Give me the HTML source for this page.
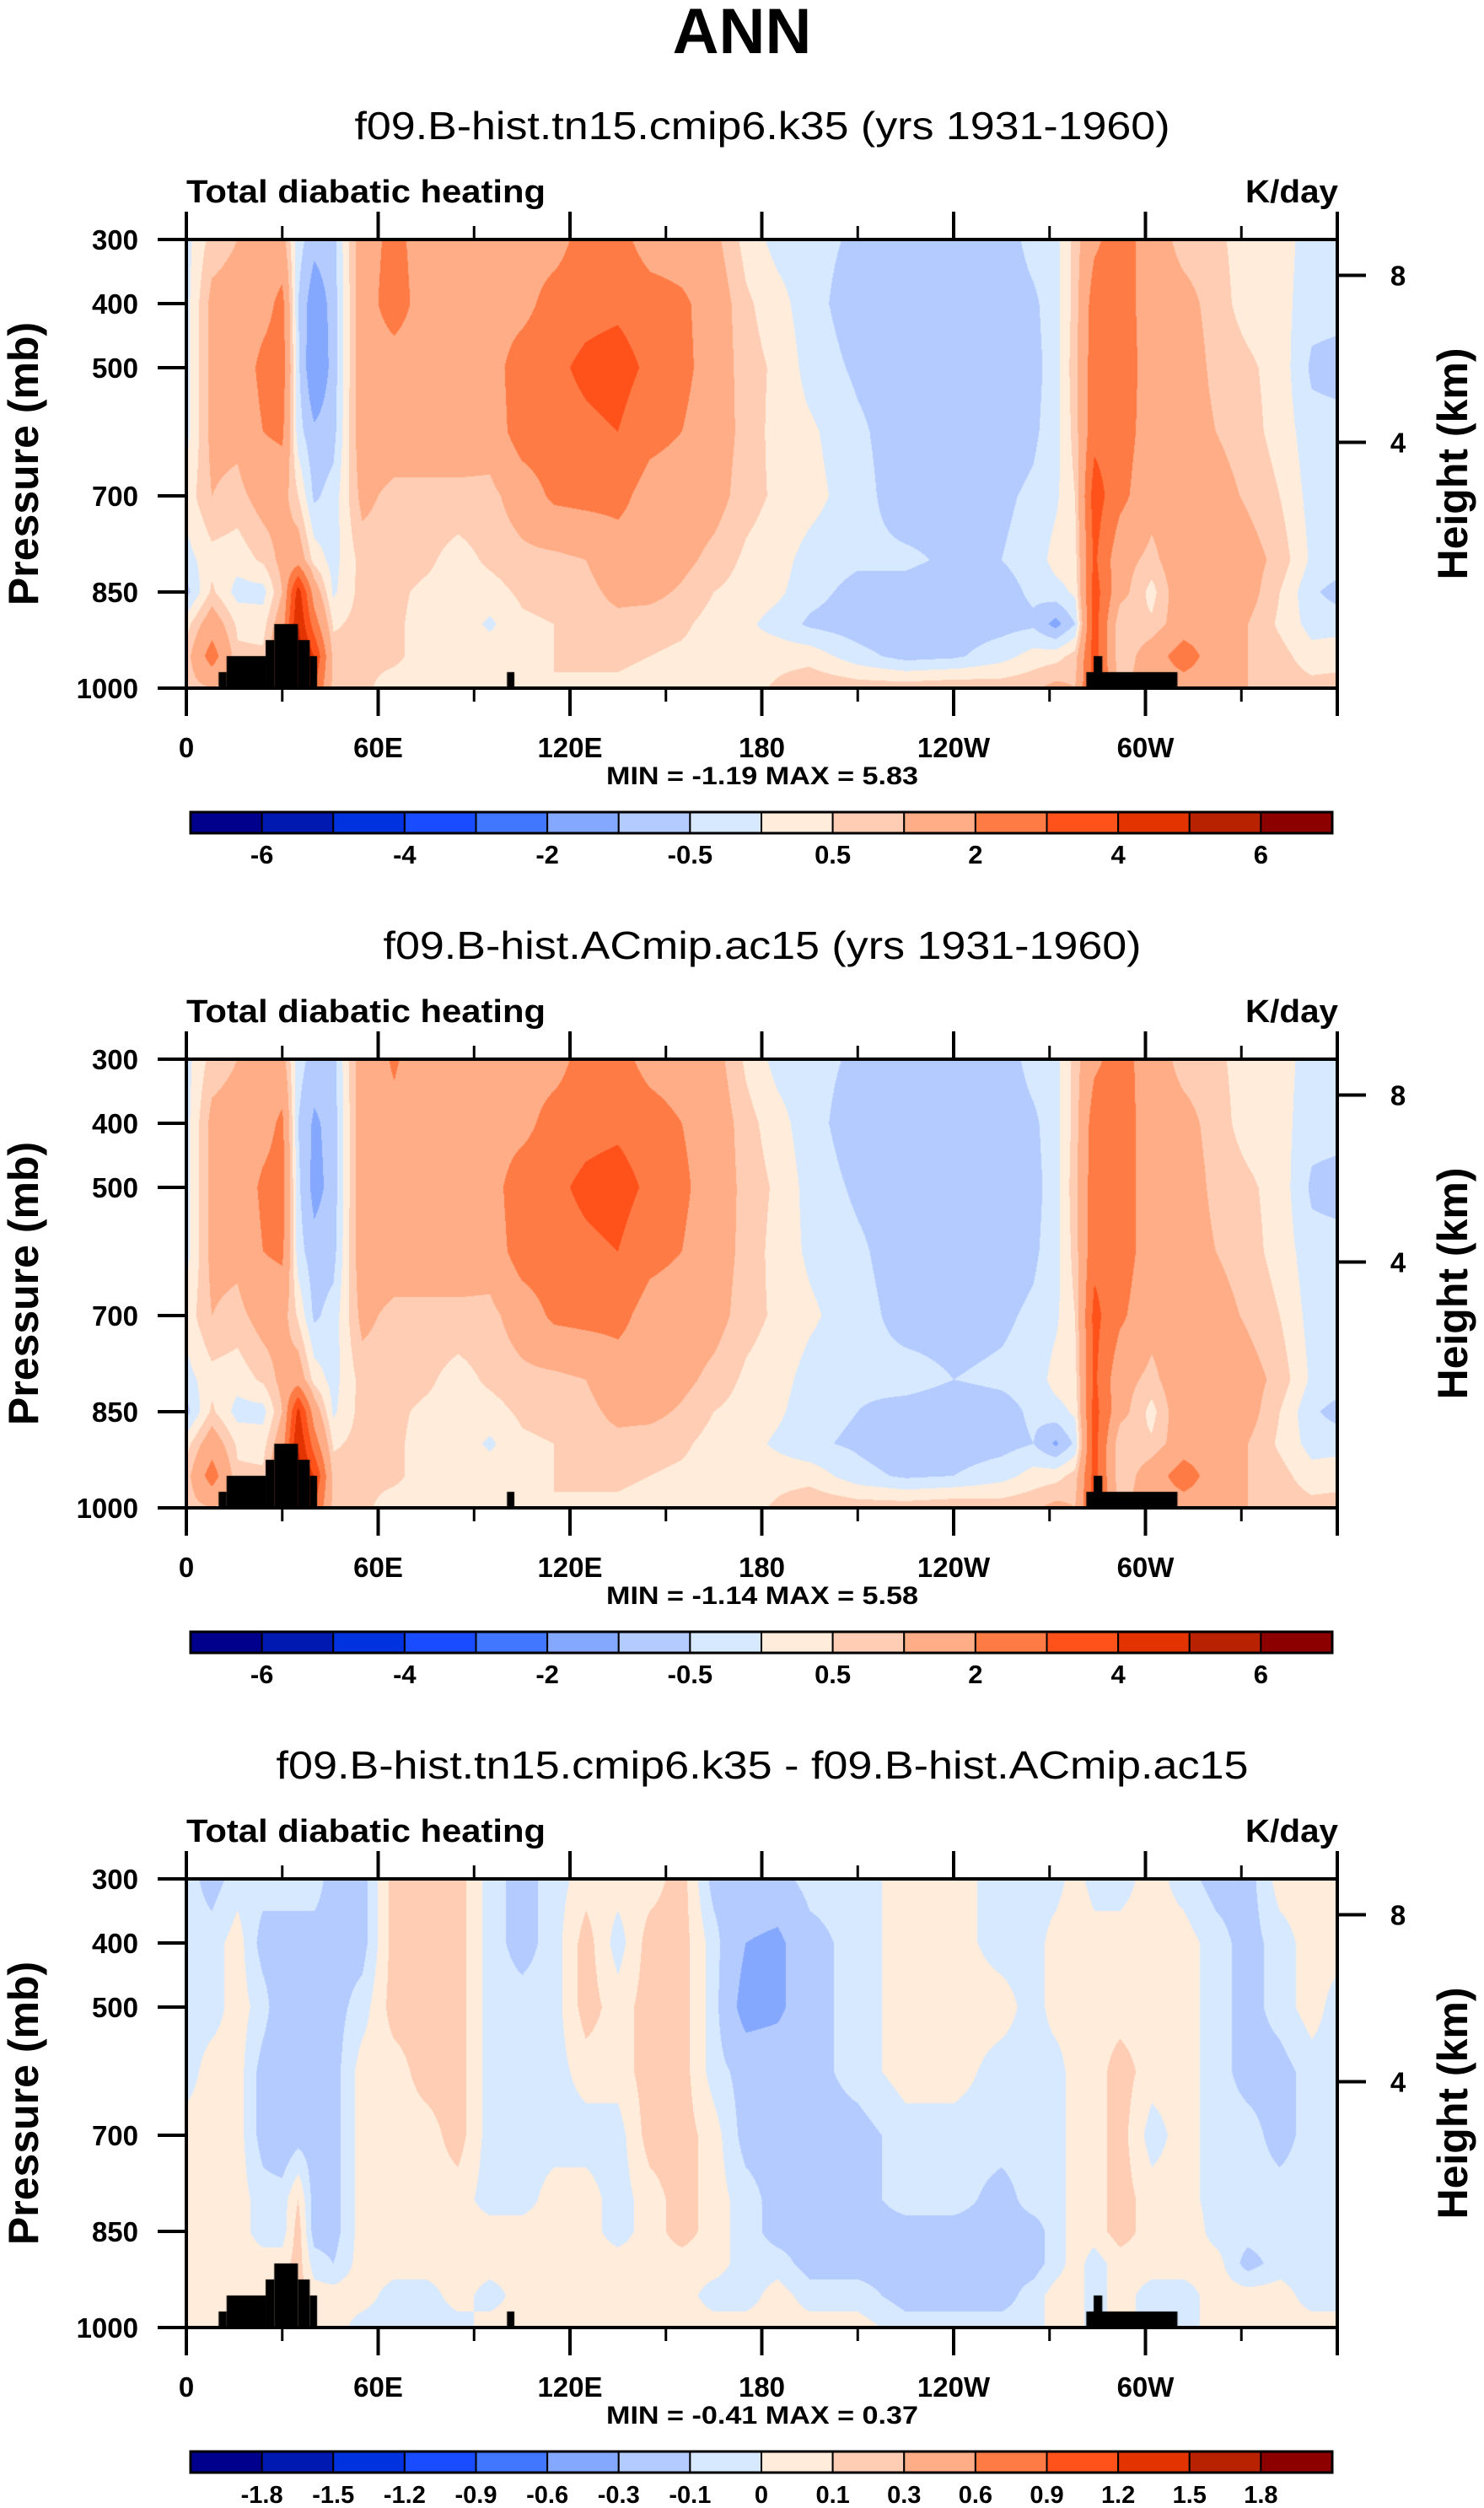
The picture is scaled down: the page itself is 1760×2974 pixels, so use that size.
<!DOCTYPE html>
<html><head><meta charset="utf-8">
<style>
html,body{margin:0;padding:0;background:#fff;}
#wrap{position:relative;width:1760px;height:2974px;overflow:hidden;}
canvas{position:absolute;}
svg{position:absolute;left:0;top:0;}
text{font-family:"Liberation Sans",sans-serif;}
</style></head>
<body>
<div id="wrap">
<canvas id="c1" width="1365" height="532" style="left:221px;top:284px"></canvas>
<canvas id="c2" width="1365" height="532" style="left:221px;top:1256px"></canvas>
<canvas id="c3" width="1365" height="532" style="left:221px;top:2228px"></canvas>
<svg id="ov" width="1760" height="2974">
<text x="880" y="63" text-anchor="middle" font-size="76" font-weight="bold">ANN</text>
</svg>
</div>
<script>
// ---- data ----
const lons = [0,8,16,24,30,35,40,46,55,65,75,85,95,105,115,125,135,145,155,165,175,185,195,210,225,240,255,265,272,278,284,292,302,312,322,332,342,352,360];
const levels = [300,400,500,600,700,800,850,900,950,1000];
const levels1 = [-6,-5,-4,-3,-2,-1,-0.5,0,0.5,1,2,3,4,5,6];
const levelLabels1 = ['-6','-4','-2','-0.5','0.5','2','4','6'];
const levels3 = [-1.8,-1.5,-1.2,-0.9,-0.6,-0.3,-0.1,0,0.1,0.3,0.6,0.9,1.2,1.5,1.8];
const levelLabels3 = ['-1.8','-1.5','-1.2','-0.9','-0.6','-0.3','-0.1','0','0.1','0.3','0.6','0.9','1.2','1.5','1.8'];
const palette = ['#00008c','#0019b0','#0032e0','#1a4cff','#4176ff','#85a8ff','#b4cbff','#d7e9ff','#ffecda','#ffcdb4','#ffad86','#ff7b45','#ff521b','#e23300','#b82200','#8c0000'];
// each inner array: values at `levels` for one longitude in `lons`
const field1 = [
[-0.2,-0.2,-0.2,-0.2,0.2,-0.2,-0.7,0.3,0.7,0.7],
[0.7,1.2,1.2,1.2,1.0,0.3,0.6,1.5,2.5,1.0],
[1.0,1.3,1.3,1.2,0.8,0.2,-0.2,0.4,0.6,0.6],
[1.4,1.6,2.3,2.0,1.3,0.6,-0.2,0.3,0.6,0.6],
[1.3,2.3,2.5,2.2,1.3,1.2,1.0,1.5,2,2],
[-0.3,-0.5,-0.4,-0.3,0.5,1.5,4.5,5.0,5.5,5.0],
[-0.8,-1.4,-1.6,-0.9,-0.6,0.3,1.5,2.5,4.0,3.0],
[-0.7,-0.8,-0.8,-0.7,-0.3,-0.2,-0.1,0.4,0.8,0.8],
[1.5,1.5,1.5,1.5,1.2,0.7,0.7,0.7,0.6,0.6],
[2.3,2.5,1.5,1.5,0.8,0.7,0.6,0.6,0.6,0.3],
[1.5,1.5,1.5,1.5,0.8,0.6,0.4,0.3,0.3,0.3],
[1.5,1.5,1.5,1.5,0.8,0.3,0.3,0.3,0.3,0.3],
[1.5,1.5,1.5,1.4,0.8,0.6,0.3,-0.1,0.3,0.3],
[1.5,1.6,2.6,2.5,1.4,0.8,0.6,0.4,0.5,0.3],
[1.5,2.5,2.8,2.6,2.2,0.8,0.7,0.5,0.5,0.5],
[2.5,2.7,3.2,2.8,2.3,1.0,0.8,0.7,0.6,0.4],
[2.4,2.8,3.4,3.0,2.3,1.5,1.2,0.8,0.6,0.4],
[1.5,2.5,2.8,2.3,1.6,1.5,1.2,0.7,0.5,0.3],
[1.4,2.2,2.3,2.0,1.5,1.2,0.9,0.6,0.4,0.2],
[1.2,1.5,1.5,1.4,1.3,0.8,0.5,0.3,0.3,0.2],
[0.3,0.6,0.7,0.8,0.7,0.4,0.3,0.1,0.2,0.3],
[-0.2,0.2,0.4,0.3,0.4,0.2,0.1,-0.2,0.3,0.6],
[-0.3,-0.3,-0.2,0.1,0.2,-0.2,-0.3,-0.6,0.3,0.9],
[-0.6,-0.8,-0.6,-0.4,-0.3,-0.4,-0.7,-0.8,-0.3,0.8],
[-0.8,-0.8,-0.8,-0.8,-0.8,-0.4,-0.7,-1.0,-0.7,0.8],
[-0.8,-0.8,-0.8,-0.8,-0.7,-0.6,-0.8,-0.8,-0.6,0.9],
[-0.8,-0.8,-0.8,-0.8,-0.6,-0.5,-0.7,-0.7,-0.2,0.8],
[-0.3,-0.6,-0.7,-0.6,-0.4,-0.3,-0.4,-0.6,0.2,0.9],
[-0.2,-0.2,-0.2,-0.2,-0.1,0.2,-0.2,-1.2,0.3,1.2],
[0.7,0.7,0.8,0.7,0.5,0.3,0.1,-0.5,0.7,1.0],
[1.8,2.5,2.6,2.7,3.5,3.2,3.5,3.5,3.5,3.5],
[2.5,2.5,2.5,2.5,2.3,1.3,1.3,0.5,0.5,0.8],
[1.5,1.5,1.6,1.5,1.3,0.8,0.3,0.6,1.5,1.5],
[0.7,1.3,1.5,1.5,1.6,1.6,1.6,1.5,2.5,1.5],
[0.6,0.7,0.8,1.0,1.3,1.7,1.6,1.5,1.5,1.5],
[0.3,0.3,0.6,0.7,0.9,1.3,1.3,1.0,1.0,1.0],
[0.2,0.2,0.3,0.3,0.5,0.8,0.5,0.4,0.7,0.8],
[-0.2,-0.3,-0.6,-0.3,-0.2,-0.1,-0.4,-0.2,0.2,0.7],
[-0.2,-0.3,-0.7,-0.3,-0.2,-0.2,-0.7,-0.2,0.3,0.7]];
const field2 = [
[-0.2,-0.2,-0.2,-0.2,0.2,-0.2,-0.7,0.3,0.7,0.7],
[0.7,1.2,1.2,1.2,1.0,0.3,0.6,1.5,2.5,1.0],
[1.0,1.3,1.3,1.2,0.8,0.2,-0.2,0.4,0.6,0.6],
[1.4,1.6,2.2,2.0,1.3,0.6,-0.2,0.3,0.6,0.6],
[1.3,2.2,2.4,2.2,1.3,1.2,1.0,1.5,2,2],
[-0.3,-0.5,-0.4,-0.3,0.4,1.5,4.3,5.0,5.3,5.0],
[-0.7,-1.1,-1.2,-0.8,-0.6,0.3,1.5,2.5,4.0,3.0],
[-0.7,-0.8,-0.8,-0.7,-0.3,-0.2,-0.1,0.4,0.8,0.8],
[1.5,1.5,1.5,1.5,1.2,0.7,0.7,0.7,0.6,0.6],
[2.1,1.8,1.5,1.5,0.8,0.7,0.6,0.6,0.6,0.3],
[1.5,1.5,1.5,1.5,0.8,0.6,0.4,0.3,0.3,0.3],
[1.5,1.5,1.5,1.5,0.8,0.3,0.3,0.3,0.3,0.3],
[1.5,1.5,1.5,1.4,0.8,0.6,0.3,-0.1,0.3,0.3],
[1.5,1.6,2.7,2.5,1.4,0.8,0.6,0.4,0.5,0.3],
[1.5,2.5,2.8,2.6,2.2,0.8,0.7,0.5,0.5,0.5],
[2.5,2.7,3.2,2.8,2.3,1.0,0.8,0.7,0.6,0.4],
[2.4,2.8,3.4,3.0,2.3,1.5,1.2,0.8,0.6,0.4],
[1.6,2.5,2.8,2.3,1.6,1.5,1.2,0.7,0.5,0.3],
[1.4,2.0,2.2,2.0,1.5,1.2,0.9,0.6,0.4,0.2],
[1.3,1.5,1.5,1.4,1.3,0.8,0.5,0.3,0.3,0.2],
[0.4,0.7,0.8,0.8,0.7,0.4,0.3,0.2,0.2,0.3],
[-0.2,0.2,0.4,0.3,0.4,0.2,0.1,-0.1,0.3,0.6],
[-0.3,-0.3,-0.2,-0.1,0.1,-0.2,-0.3,-0.4,0.3,0.9],
[-0.6,-0.8,-0.6,-0.4,-0.3,-0.4,-0.5,-0.6,-0.3,0.8],
[-0.8,-0.8,-0.8,-0.8,-0.7,-0.3,-0.7,-0.9,-0.6,0.8],
[-0.8,-0.8,-0.8,-0.8,-0.7,-0.5,-0.8,-0.8,-0.5,0.9],
[-0.8,-0.8,-0.8,-0.8,-0.6,-0.4,-0.7,-0.7,-0.2,0.8],
[-0.3,-0.6,-0.7,-0.6,-0.4,-0.3,-0.4,-0.5,0.2,0.9],
[-0.2,-0.2,-0.2,-0.2,-0.1,0.2,-0.2,-1.1,0.3,1.2],
[0.7,0.7,0.8,0.7,0.5,0.3,0.1,-0.4,0.7,1.0],
[1.8,2.5,2.6,2.7,3.3,3.2,3.4,3.4,3.4,3.4],
[2.4,2.5,2.4,2.5,2.2,1.3,1.3,0.5,0.5,0.8],
[1.5,1.5,1.6,1.5,1.3,0.8,0.3,0.6,1.5,1.5],
[0.7,1.3,1.5,1.5,1.6,1.6,1.6,1.5,2.5,1.5],
[0.6,0.7,0.8,1.0,1.3,1.7,1.6,1.5,1.5,1.5],
[0.3,0.3,0.6,0.7,0.9,1.3,1.3,1.0,1.0,1.0],
[0.2,0.2,0.3,0.3,0.5,0.8,0.5,0.4,0.7,0.8],
[-0.2,-0.3,-0.6,-0.3,-0.2,-0.1,-0.4,-0.2,0.2,0.7],
[-0.2,-0.3,-0.7,-0.3,-0.2,-0.2,-0.7,-0.2,0.3,0.7]];
const field3 = [
[-0.05,-0.05,-0.05,-0.05,0.05,0.05,0.05,0.05,0.05,0.05],
[-0.15,-0.05,-0.05,0.05,0.05,0.05,0.05,0.05,0.05,0.05],
[-0.05,0.05,0.05,0.05,0.05,0.05,0.05,0.05,0.05,0.05],
[-0.05,-0.15,-0.05,-0.15,-0.15,-0.05,-0.05,0.05,0.05,0.05],
[-0.05,-0.15,-0.2,-0.2,-0.2,-0.05,-0.05,0.05,0.05,0.05],
[-0.05,-0.15,-0.15,-0.15,-0.15,0.1,0.15,0.15,0.15,0.15],
[-0.05,-0.15,-0.15,-0.15,-0.15,-0.15,-0.15,-0.05,0.05,0.05],
[-0.15,-0.15,-0.15,-0.15,-0.15,-0.15,-0.15,-0.1,0.05,0.05],
[-0.15,-0.15,-0.05,0.05,0.05,0.05,0.05,0.05,0.05,-0.05],
[0.15,0.15,0.15,0.05,0.05,0.05,0.05,0.05,-0.05,-0.05],
[0.15,0.15,0.15,0.15,0.05,0.05,0.05,0.05,-0.05,-0.05],
[0.15,0.15,0.15,0.15,0.15,0.05,0.05,0.05,0.05,-0.05],
[-0.05,-0.05,-0.05,-0.05,-0.05,-0.05,0.05,0.05,-0.05,0.05],
[-0.15,-0.15,-0.05,-0.05,-0.05,-0.05,0.05,0.05,0.05,0.05],
[-0.05,-0.05,-0.05,-0.05,-0.05,0.05,0.05,0.05,0.05,0.05],
[0.05,0.15,0.15,0.05,-0.05,0.05,0.05,0.05,0.05,0.05],
[0.05,-0.05,0.05,0.05,-0.05,-0.05,-0.05,0.05,0.05,0.05],
[0.05,0.15,0.15,0.15,0.15,0.05,0.05,0.05,0.05,0.05],
[0.15,0.15,0.15,0.15,0.15,0.15,0.15,0.05,0.05,0.05],
[-0.15,-0.05,-0.05,-0.05,0.05,0.05,0.05,0.05,-0.05,0.05],
[-0.15,-0.3,-0.4,-0.15,-0.15,-0.05,-0.05,-0.05,-0.05,0.05],
[-0.15,-0.35,-0.35,-0.15,-0.15,-0.15,-0.15,-0.05,0.05,0.05],
[-0.05,-0.15,-0.15,-0.15,-0.15,-0.15,-0.15,-0.15,-0.05,0.05],
[-0.05,-0.05,-0.05,-0.05,-0.15,-0.15,-0.15,-0.15,-0.05,0.05],
[0.05,0.05,0.05,0.05,-0.05,-0.05,-0.15,-0.15,-0.15,-0.05],
[0.05,0.05,0.05,0.05,-0.05,-0.05,-0.15,-0.15,-0.15,-0.05],
[-0.05,-0.05,0.05,-0.05,-0.05,-0.15,-0.15,-0.15,-0.15,-0.05],
[-0.05,-0.05,-0.05,-0.05,-0.05,-0.05,-0.15,-0.15,-0.05,-0.05],
[-0.05,0.05,0.05,-0.05,-0.05,-0.05,-0.05,-0.05,0.05,0.05],
[0.05,0.1,0.05,0.05,0.05,0.05,0.05,0.05,0.05,0.05],
[-0.05,0.05,0.05,0.05,0.05,0.05,0.05,-0.05,-0.05,-0.05],
[-0.05,0.05,0.05,0.15,0.15,0.15,0.15,0.05,0.05,0.05],
[0.05,0.05,0.05,0.05,-0.05,0.05,0.05,0.05,-0.05,-0.05],
[-0.05,0.05,0.05,0.05,0.05,0.05,0.1,0.05,-0.05,-0.05],
[-0.15,-0.05,-0.05,-0.05,-0.05,-0.05,-0.05,0.05,0.05,0.05],
[-0.15,-0.15,-0.15,-0.15,-0.05,-0.05,-0.05,-0.15,0.05,0.05],
[0.05,-0.05,-0.05,-0.15,-0.15,-0.05,-0.05,-0.05,0.05,0.05],
[0.05,0.05,0.05,-0.05,-0.05,-0.05,-0.05,-0.05,-0.05,0.05],
[0.05,0.05,-0.05,-0.05,-0.05,-0.05,-0.05,-0.05,-0.05,0.05]];
// topography: start lon, end lon, surface pressure top (mb)
const topoStart = [10.1,12.6,24.8,27.5,34.9,38.6,100.3,281.5,283.8];
const topoEnd   = [12.6,24.8,27.5,34.9,38.6,40.9,102.6,310.0,286.5];
const topoTop   = [975,950,925,900,925,950,975,975,950];
const pTicks = [300,400,500,700,850,1000];
const lonTicks = [0,60,120,180,240,300,360];
const lonLabels = ['0','60E','120E','180','120W','60W',''];
const hTicks = [8,4];
const subtitles = ['f09.B-hist.tn15.cmip6.k35 (yrs 1931-1960)','f09.B-hist.ACmip.ac15 (yrs 1931-1960)','f09.B-hist.tn15.cmip6.k35 - f09.B-hist.ACmip.ac15'];
const subtitleWidths = [967,899,1153];
const minVals = ['-1.19','-1.14','-0.41'];
const maxVals = ['5.83','5.58','0.37'];

// ---- layout ----
const L=221, W=1365, H=532, TOPS=[284,1256,2228];
function xLon(lon){return lon/360*W;}
function yP(p){return (p-300)/700*H;}
function hex(c){return [parseInt(c.slice(1,3),16),parseInt(c.slice(3,5),16),parseInt(c.slice(5,7),16)];}
const rgb = palette.map(hex);

function findIdx(arr,v){for(let i=0;i<arr.length-1;i++){if(v<=arr[i+1])return i;}return arr.length-2;}
function drawField(canvasId, field, lv){
  const cv=document.getElementById(canvasId), ctx=cv.getContext('2d');
  const img=ctx.createImageData(W,H), d=img.data;
  const xi=[],xf=[],yi=[],yf=[];
  for(let x=0;x<W;x++){const lon=(x+0.5)/W*360;const i=findIdx(lons,lon);xi.push(i);xf.push((lon-lons[i])/(lons[i+1]-lons[i]));}
  for(let y=0;y<H;y++){const p=300+(y+0.5)/H*700;const j=findIdx(levels,p);yi.push(j);yf.push((p-levels[j])/(levels[j+1]-levels[j]));}
  for(let y=0;y<H;y++){const j=yi[y],fy=yf[y];
    for(let x=0;x<W;x++){const i=xi[x],fx=xf[x];
      const v=(field[i][j]*(1-fx)+field[i+1][j]*fx)*(1-fy)+(field[i][j+1]*(1-fx)+field[i+1][j+1]*fx)*fy;
      let k=0;while(k<lv.length&&v>=lv[k])k++;
      const c=rgb[k],o=(y*W+x)*4;d[o]=c[0];d[o+1]=c[1];d[o+2]=c[2];d[o+3]=255;}}
  ctx.putImageData(img,0,0);
  ctx.fillStyle='#000';
  for(let t=0;t<topoStart.length;t++){
    const x0=xLon(topoStart[t]),x1=xLon(topoEnd[t]),y0=yP(topoTop[t]);
    ctx.fillRect(x0,y0,x1-x0,H-y0);
  }
}
drawField('c1',field1,levels1);
drawField('c2',field2,levels1);
drawField('c3',field3,levels3);

const NS='http://www.w3.org/2000/svg', svg=document.getElementById('ov');
function mk(tag,attrs,parent){const e=document.createElementNS(NS,tag);for(const k in attrs)e.setAttribute(k,attrs[k]);(parent||svg).appendChild(e);return e;}
function txt(s,attrs,parent){const e=mk('text',attrs,parent);e.textContent=s;return e;}
function pFromKm(z){return 1013.25*Math.pow(1-2.25577e-5*z*1000,5.25588);}

for(let n=0;n<3;n++){
  const T=TOPS[n], g=mk('g',{});
  
  
  let e=txt(subtitles[n],{x:904,y:T-119,'text-anchor':'middle','font-size':46,textLength:subtitleWidths[n],lengthAdjust:'spacingAndGlyphs'},g);
  
  e=txt('Total diabatic heating',{x:221,y:T-44,'font-size':38,'font-weight':'bold',textLength:426,lengthAdjust:'spacingAndGlyphs'},g);
  
  e=txt('K/day',{x:1587,y:T-44,'text-anchor':'end','font-size':38,'font-weight':'bold',textLength:110,lengthAdjust:'spacingAndGlyphs'},g);
  
  e=mk('rect',{x:L,y:T,width:W,height:H,fill:'none',stroke:'#000','stroke-width':4},g);
  
  for(let i=0;i<lonTicks.length;i++){
    const x=L+xLon(lonTicks[i]);
    mk('line',{x1:x,x2:x,y1:T-33,y2:T,stroke:'#000','stroke-width':4},g);
    mk('line',{x1:x,x2:x,y1:T+H,y2:T+H+33,stroke:'#000','stroke-width':4},g);
    if(i<lonTicks.length-1){
      const xm=L+xLon(lonTicks[i]+30);
      mk('line',{x1:xm,x2:xm,y1:T-16,y2:T,stroke:'#000','stroke-width':3},g);
      mk('line',{x1:xm,x2:xm,y1:T+H,y2:T+H+16,stroke:'#000','stroke-width':3},g);
    }
    e=txt(lonLabels[i],{x:x,y:T+H+82,'text-anchor':'middle','font-size':33,'font-weight':'bold'},g);
    
  }
  for(const p of pTicks){
    const y=T+yP(p);
    mk('line',{x1:L-34,x2:L,y1:y,y2:y,stroke:'#000','stroke-width':4},g);
    e=txt(String(p),{x:164,y:y+12,'text-anchor':'end','font-size':33,'font-weight':'bold'},g);
    
  }
  for(const h of hTicks){
    const y=T+yP(pFromKm(h));
    mk('line',{x1:L+W,x2:L+W+34,y1:y,y2:y,stroke:'#000','stroke-width':4},g);
    e=txt(String(h),{x:1658,y:y+12,'text-anchor':'middle','font-size':33,'font-weight':'bold'},g);
    
  }
  e=txt('Pressure (mb)',{x:0,y:0,'text-anchor':'middle','font-size':50,'font-weight':'bold',transform:'translate(45,'+(T+266)+') rotate(-90)'},g);
  
  e=txt('Height (km)',{x:0,y:0,'text-anchor':'middle','font-size':50,'font-weight':'bold',transform:'translate(1740,'+(T+266)+') rotate(-90)'},g);
  
  e=txt('MIN =  '+minVals[n]+'  MAX =   '+maxVals[n],{x:904,y:T+H+114,'text-anchor':'middle','font-size':30,'font-weight':'bold',textLength:370,lengthAdjust:'spacingAndGlyphs'},g);
  
  const cb=mk('g',{},g);
  
  const cx0=226,cw=1354,cy=T+H+147,ch=25,bw=cw/16;
  for(let k=0;k<16;k++){
    e=mk('rect',{x:cx0+k*bw,y:cy,width:bw,height:ch,fill:palette[k],stroke:'#000','stroke-width':2},cb);
    
  }
  mk('rect',{x:cx0,y:cy,width:cw,height:ch,fill:'none',stroke:'#000','stroke-width':3},cb);
  const labs = n<2?levelLabels1:levelLabels3;
  for(let k=0;k<labs.length;k++){
    const b = n<2 ? 1+2*k : 1+k;
    e=txt(labs[k],{x:cx0+b*bw,y:cy+61,'text-anchor':'middle','font-size':n<2?31:29,'font-weight':'bold'},cb);
    
  }
}
</script>
</body></html>
